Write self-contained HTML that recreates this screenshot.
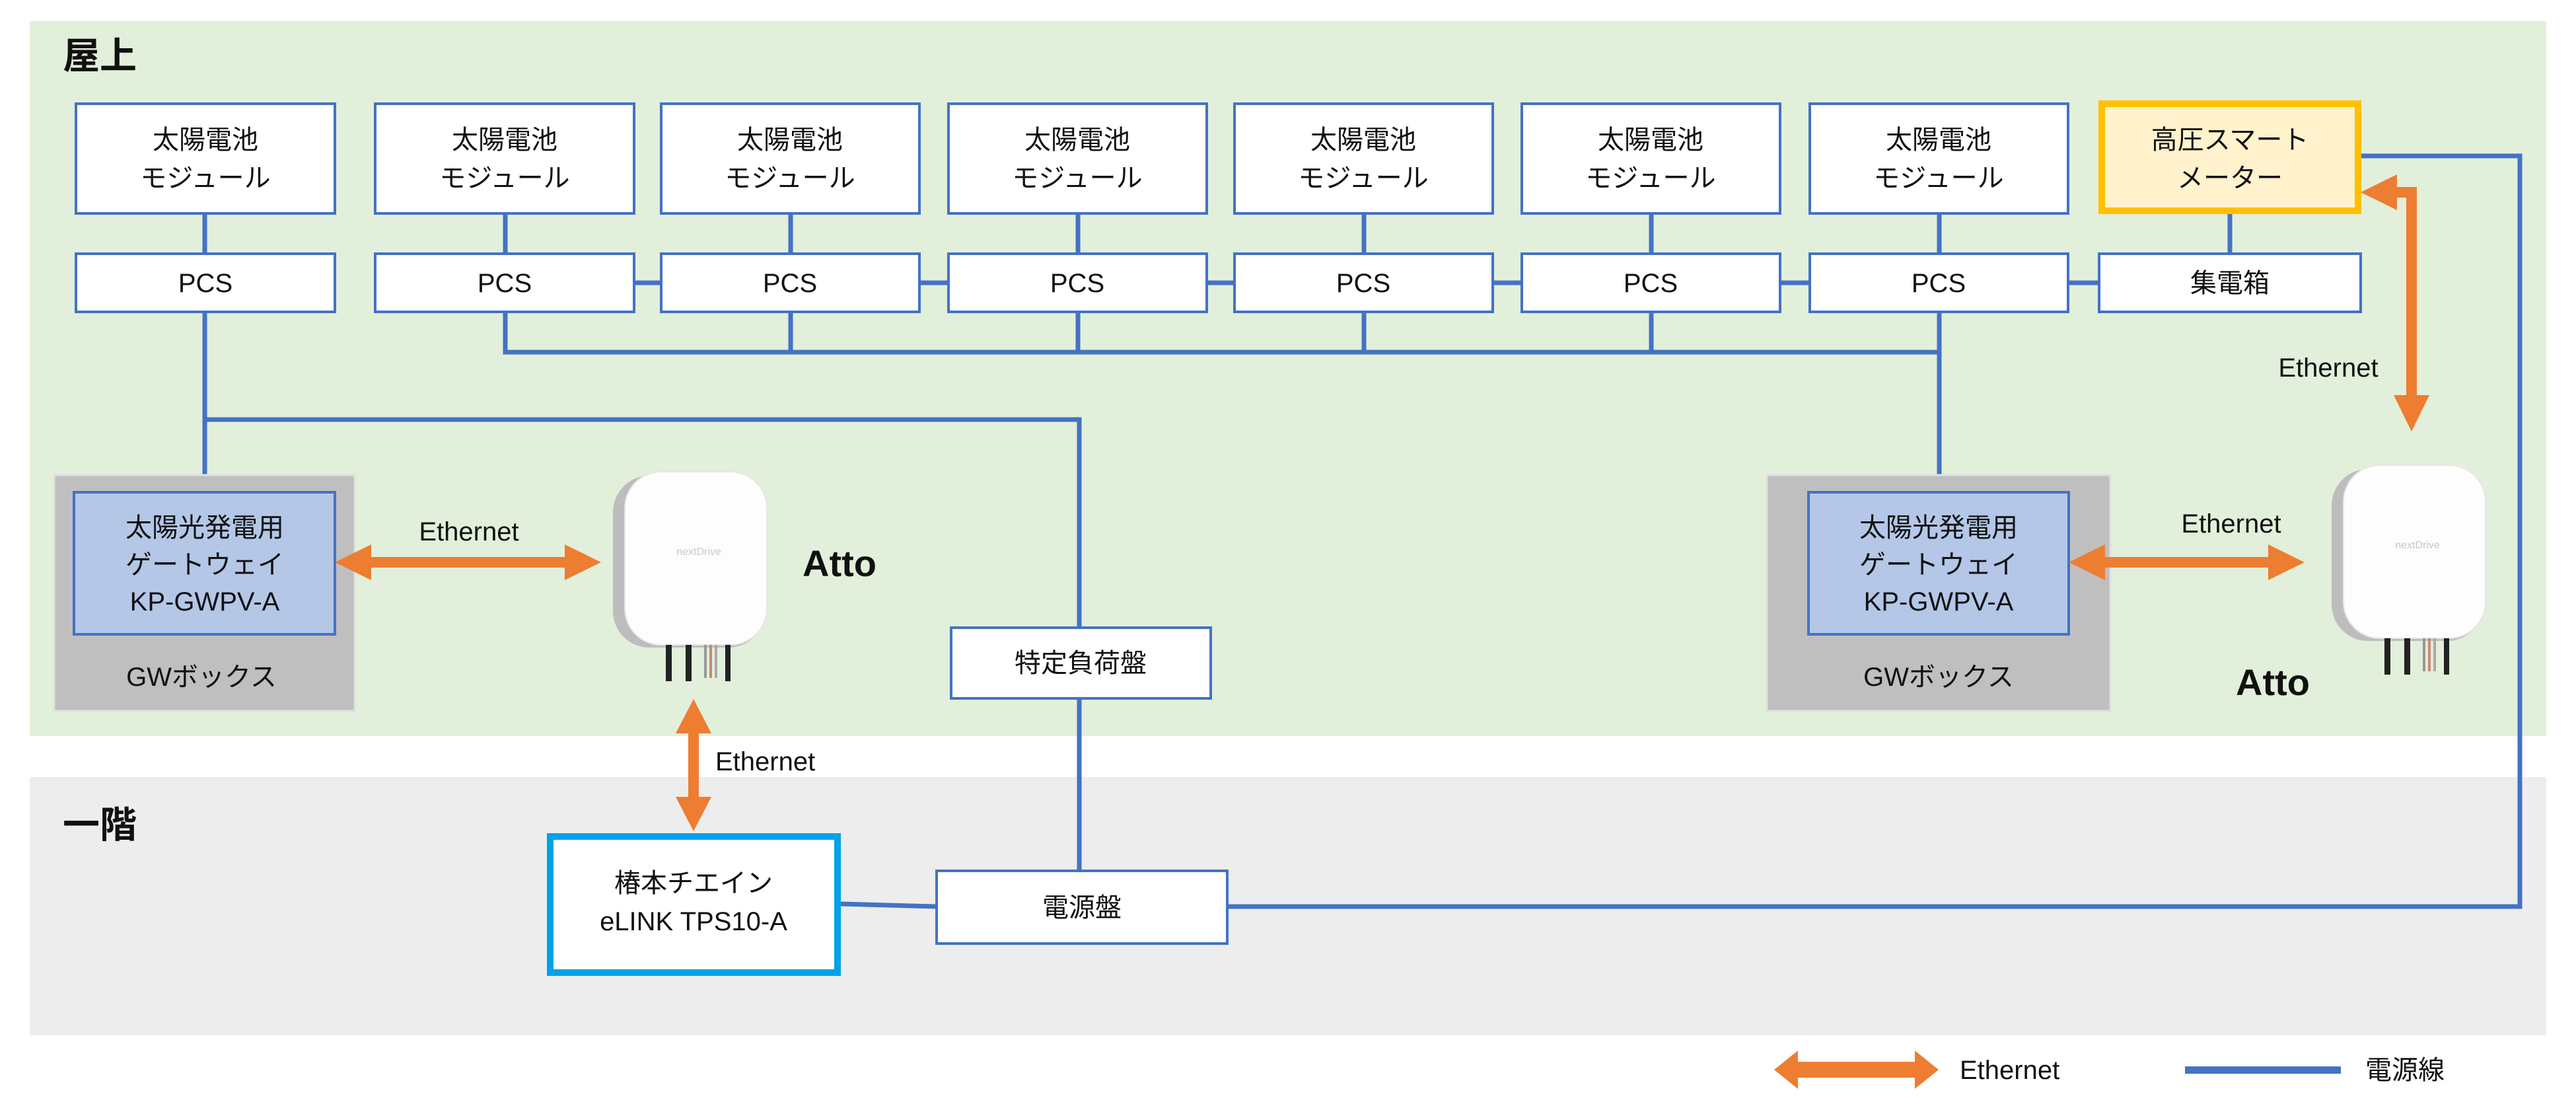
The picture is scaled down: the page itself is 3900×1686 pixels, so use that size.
<!DOCTYPE html>
<html><head><meta charset="utf-8"><style>
html,body{margin:0;padding:0;background:#fff;}
svg text{font-family:"Liberation Sans","Noto Sans CJK JP",sans-serif;}
</style></head><body>
<svg width="3900" height="1681" viewBox="0 0 3900 1681" xmlns="http://www.w3.org/2000/svg">
<defs>
<g id="atto">
  <rect x="0" y="0" width="230" height="260" rx="55" fill="#bdbdbd"/>
  <rect x="18" y="-6" width="215" height="262" rx="55" fill="#fdfdfd" stroke="#e6e6e6" stroke-width="2"/>
  <text x="130" y="120" font-size="16" fill="#c8c8c8" text-anchor="middle">nextDrive</text>
  <rect x="80" y="256" width="9" height="55" fill="#222"/>
  <rect x="110" y="256" width="9" height="55" fill="#222"/>
  <rect x="138" y="256" width="4" height="50" fill="#999"/>
  <rect x="146" y="256" width="4" height="50" fill="#c87"/>
  <rect x="154" y="256" width="4" height="50" fill="#aaa"/>
  <rect x="170" y="256" width="8" height="55" fill="#222"/>
</g>
</defs>
<!-- regions -->
<rect x="45" y="32" width="3810" height="1082" fill="#e2efda"/>
<rect x="45" y="1176" width="3810" height="391" fill="#ededed"/>
<text x="95" y="104" font-size="56" font-weight="bold" fill="#111">屋上</text>
<text x="95" y="1268" font-size="56" font-weight="bold" fill="#111">一階</text>

<!-- power lines -->
<g stroke="#4472c4" stroke-width="7" fill="none">
  <line x1="310" y1="323" x2="310" y2="745"/>
  <polyline points="310,635 1634,635 1634,950"/>
  <line x1="1634" y1="1057" x2="1634" y2="1318"/>
  <polyline points="765,473 765,533 2936,533"/>
  <line x1="1197" y1="473" x2="1197" y2="533"/>
  <line x1="1632" y1="473" x2="1632" y2="533"/>
  <line x1="2065" y1="473" x2="2065" y2="533"/>
  <line x1="2500" y1="473" x2="2500" y2="533"/>
  <line x1="2936" y1="473" x2="2936" y2="745"/>
  <line x1="765" y1="323" x2="765" y2="383"/>
  <line x1="1197" y1="323" x2="1197" y2="383"/>
  <line x1="1632" y1="323" x2="1632" y2="383"/>
  <line x1="2065" y1="323" x2="2065" y2="383"/>
  <line x1="2500" y1="323" x2="2500" y2="383"/>
  <line x1="2936" y1="323" x2="2936" y2="383"/>
  <line x1="3376" y1="323" x2="3376" y2="383"/>
  <line x1="960" y1="428" x2="1002" y2="428"/>
  <line x1="1392" y1="428" x2="1437" y2="428"/>
  <line x1="1827" y1="428" x2="1870" y2="428"/>
  <line x1="2260" y1="428" x2="2305" y2="428"/>
  <line x1="2695" y1="428" x2="2741" y2="428"/>
  <line x1="3131" y1="428" x2="3178" y2="428"/>
  <line x1="1273" y1="1368" x2="1418" y2="1372"/>
  <polyline points="1858,1372 3815,1372 3815,236 3574,236"/>
</g>

<!-- module boxes -->
<g fill="#fff" stroke="#4472c4" stroke-width="4">
  <rect x="115" y="157" width="392" height="166"/>
  <rect x="568" y="157" width="392" height="166"/>
  <rect x="1001" y="157" width="391" height="166"/>
  <rect x="1436" y="157" width="391" height="166"/>
  <rect x="1869" y="157" width="391" height="166"/>
  <rect x="2304" y="157" width="391" height="166"/>
  <rect x="2740" y="157" width="391" height="166"/>
  <rect x="115" y="384" width="392" height="88"/>
  <rect x="568" y="384" width="392" height="88"/>
  <rect x="1001" y="384" width="391" height="88"/>
  <rect x="1436" y="384" width="391" height="88"/>
  <rect x="1869" y="384" width="391" height="88"/>
  <rect x="2304" y="384" width="391" height="88"/>
  <rect x="2740" y="384" width="391" height="88"/>
  <rect x="3178" y="384" width="396" height="88"/>
  <rect x="1440" y="950" width="393" height="107"/>
  <rect x="1418" y="1318" width="440" height="110"/>
</g>
<rect x="3182" y="157" width="388" height="162" fill="#fff2cc" stroke="#ffc000" stroke-width="10"/>
<rect x="833" y="1266" width="435" height="206" fill="#fff" stroke="#00a2e8" stroke-width="10"/>

<g font-size="40" fill="#111" text-anchor="middle">
  <text x="311" y="225">太陽電池</text><text x="311" y="283">モジュール</text>
  <text x="764" y="225">太陽電池</text><text x="764" y="283">モジュール</text>
  <text x="1196" y="225">太陽電池</text><text x="1196" y="283">モジュール</text>
  <text x="1631" y="225">太陽電池</text><text x="1631" y="283">モジュール</text>
  <text x="2064" y="225">太陽電池</text><text x="2064" y="283">モジュール</text>
  <text x="2499" y="225">太陽電池</text><text x="2499" y="283">モジュール</text>
  <text x="2935" y="225">太陽電池</text><text x="2935" y="283">モジュール</text>
  <text x="3376" y="225">高圧スマート</text><text x="3376" y="283">メーター</text>
  <text x="311" y="442">PCS</text><text x="764" y="442">PCS</text><text x="1196" y="442">PCS</text>
  <text x="1631" y="442">PCS</text><text x="2064" y="442">PCS</text><text x="2499" y="442">PCS</text>
  <text x="2935" y="442">PCS</text><text x="3376" y="442">集電箱</text>
  <text x="1636" y="1017">特定負荷盤</text>
  <text x="1638" y="1387">電源盤</text>
  <text x="1050" y="1350">椿本チエイン</text>
  <text x="1050" y="1408">eLINK TPS10-A</text>
</g>

<!-- GW boxes -->
<rect x="82" y="719" width="455" height="357" fill="#bfbfbf" stroke="#e0e0e0" stroke-width="3"/>
<rect x="112" y="745" width="395" height="215" fill="#b4c7e7" stroke="#4472c4" stroke-width="4"/>
<rect x="2675" y="719" width="520" height="357" fill="#bfbfbf" stroke="#e0e0e0" stroke-width="3"/>
<rect x="2738" y="745" width="394" height="215" fill="#b4c7e7" stroke="#4472c4" stroke-width="4"/>
<g font-size="40" fill="#111" text-anchor="middle">
  <text x="310" y="812">太陽光発電用</text><text x="310" y="868">ゲートウェイ</text><text x="310" y="924">KP-GWPV-A</text>
  <text x="305" y="1038">GWボックス</text>
  <text x="2935" y="812">太陽光発電用</text><text x="2935" y="868">ゲートウェイ</text><text x="2935" y="924">KP-GWPV-A</text>
  <text x="2935" y="1038">GWボックス</text>
</g>

<!-- atto devices -->
<use href="#atto" x="928" y="720"/>
<use href="#atto" x="3530" y="710"/>
<text x="1215" y="872" font-size="56" font-weight="bold" fill="#111">Atto</text>
<text x="3385" y="1052" font-size="56" font-weight="bold" fill="#111">Atto</text>

<!-- ethernet arrows -->
<g fill="#ed7d31">
  <polygon points="507,851 562,824 562,843 855,843 855,824 910,851 855,878 855,859 562,859 562,878"/>
  <polygon points="3132,851 3187,824 3187,843 3434,843 3434,824 3489,851 3434,878 3434,859 3187,859 3187,878"/>
  <polygon points="1050,1058 1077,1110 1058,1110 1058,1206 1077,1206 1050,1258 1023,1206 1042,1206 1042,1110 1023,1110"/>
  <polygon points="3574,291 3629,264 3629,283 3659,283 3659,598 3678,598 3651,653 3624,598 3643,598 3643,299 3629,299 3629,318"/>
  <polygon points="2686,1619 2722,1590 2722,1607 2899,1607 2899,1590 2935,1619 2899,1648 2899,1631 2722,1631 2722,1648"/>
</g>
<rect x="3308" y="1614" width="236" height="11" fill="#4472c4"/>
<g font-size="40" fill="#111">
  <text x="710" y="818" text-anchor="middle">Ethernet</text>
  <text x="3378" y="806" text-anchor="middle">Ethernet</text>
  <text x="3525" y="570" text-anchor="middle">Ethernet</text>
  <text x="1083" y="1166">Ethernet</text>
  <text x="2967" y="1633">Ethernet</text>
  <text x="3581" y="1633">電源線</text>
</g>
</svg>
</body></html>
